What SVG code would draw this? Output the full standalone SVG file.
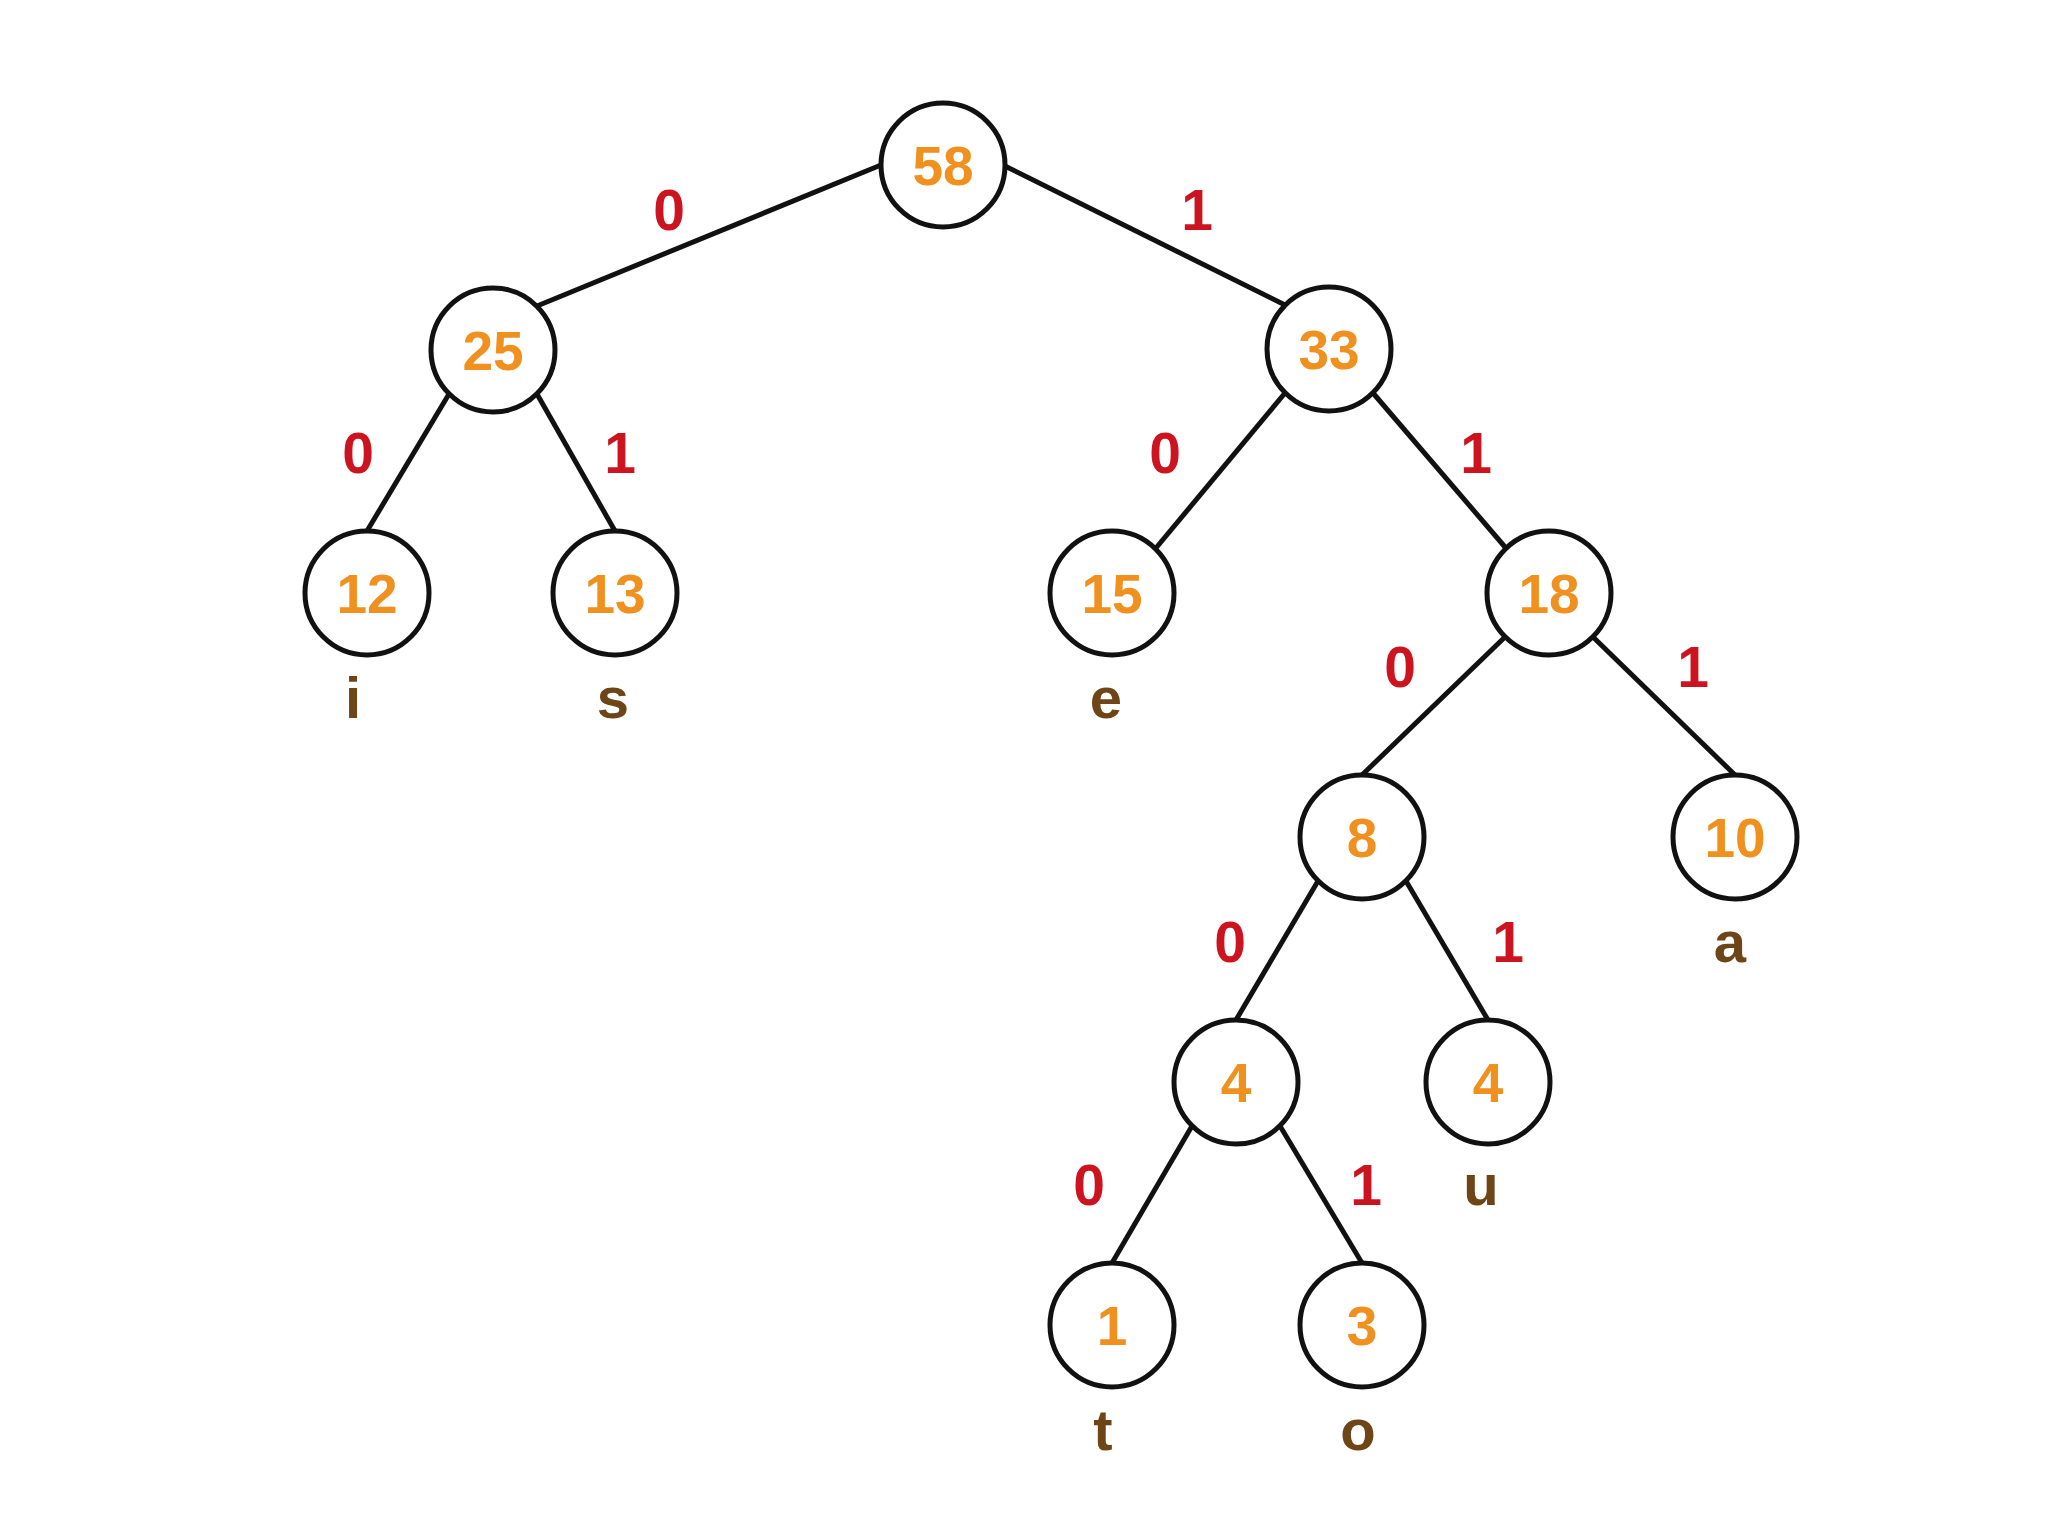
<svg xmlns="http://www.w3.org/2000/svg" width="2048" height="1536" viewBox="0 0 2048 1536">
<style>
.n circle{fill:#fff;stroke:#111;stroke-width:5}
.n text{font-family:"Liberation Sans",Arial,sans-serif;font-weight:bold;font-size:55px;fill:#f0901f;text-anchor:middle}
.e line{stroke:#111;stroke-width:5}
.b{font-family:"Liberation Sans",Arial,sans-serif;font-weight:bold;font-size:57px;fill:#cc1420;text-anchor:middle}
.l{font-family:"Liberation Sans",Arial,sans-serif;font-weight:bold;font-size:58px;fill:#6e4516;text-anchor:middle}
</style>
<rect width="2048" height="1536" fill="#fff"/>
<g class="e" id="connectors">
<line x1="881" y1="165" x2="537" y2="306"/>
<line x1="1005" y1="166" x2="1285" y2="305"/>
<line x1="449" y1="394" x2="367" y2="531"/>
<line x1="537" y1="394" x2="615" y2="531"/>
<line x1="1285" y1="393" x2="1156" y2="548"/>
<line x1="1373" y1="393" x2="1505" y2="547"/>
<line x1="1505" y1="637" x2="1362" y2="775"/>
<line x1="1593" y1="637" x2="1735" y2="775"/>
<line x1="1318" y1="881" x2="1236" y2="1020"/>
<line x1="1406" y1="881" x2="1488" y2="1020"/>
<line x1="1192" y1="1126" x2="1112" y2="1263"/>
<line x1="1280" y1="1126" x2="1362" y2="1263"/>
</g>
<g id="edge-labels">
<text class="b" x="669" y="230">0</text>
<text class="b" x="1197" y="230">1</text>
<text class="b" x="358" y="473">0</text>
<text class="b" x="620" y="473">1</text>
<text class="b" x="1165" y="473">0</text>
<text class="b" x="1476" y="473">1</text>
<text class="b" x="1400" y="687">0</text>
<text class="b" x="1693" y="687">1</text>
<text class="b" x="1230" y="962">0</text>
<text class="b" x="1508" y="962">1</text>
<text class="b" x="1089" y="1205">0</text>
<text class="b" x="1366" y="1205">1</text>
</g>
<g class="n" id="n58"><circle cx="943" cy="165" r="62"/><text x="943" y="185">58</text></g>
<g class="n" id="n25"><circle cx="493" cy="350" r="62"/><text x="493" y="370">25</text></g>
<g class="n" id="n33"><circle cx="1329" cy="349" r="62"/><text x="1329" y="369">33</text></g>
<g class="n" id="n12"><circle cx="367" cy="593" r="62"/><text x="367" y="613">12</text></g>
<g class="n" id="n13"><circle cx="615" cy="593" r="62"/><text x="615" y="613">13</text></g>
<g class="n" id="n15"><circle cx="1112" cy="593" r="62"/><text x="1112" y="613">15</text></g>
<g class="n" id="n18"><circle cx="1549" cy="593" r="62"/><text x="1549" y="613">18</text></g>
<g class="n" id="n8"><circle cx="1362" cy="837" r="62"/><text x="1362" y="857">8</text></g>
<g class="n" id="n10"><circle cx="1735" cy="837" r="62"/><text x="1735" y="857">10</text></g>
<g class="n" id="n4a"><circle cx="1236" cy="1082" r="62"/><text x="1236" y="1102">4</text></g>
<g class="n" id="n4b"><circle cx="1488" cy="1082" r="62"/><text x="1488" y="1102">4</text></g>
<g class="n" id="n1"><circle cx="1112" cy="1325" r="62"/><text x="1112" y="1345">1</text></g>
<g class="n" id="n3"><circle cx="1362" cy="1325" r="62"/><text x="1362" y="1345">3</text></g>
<g id="leaf-labels">
<text class="l" x="353" y="718">i</text>
<text class="l" x="613" y="718">s</text>
<text class="l" x="1106" y="718">e</text>
<text class="l" x="1730" y="962">a</text>
<text class="l" x="1481" y="1205">u</text>
<text class="l" x="1103" y="1450">t</text>
<text class="l" x="1358" y="1450">o</text>
</g>
</svg>
